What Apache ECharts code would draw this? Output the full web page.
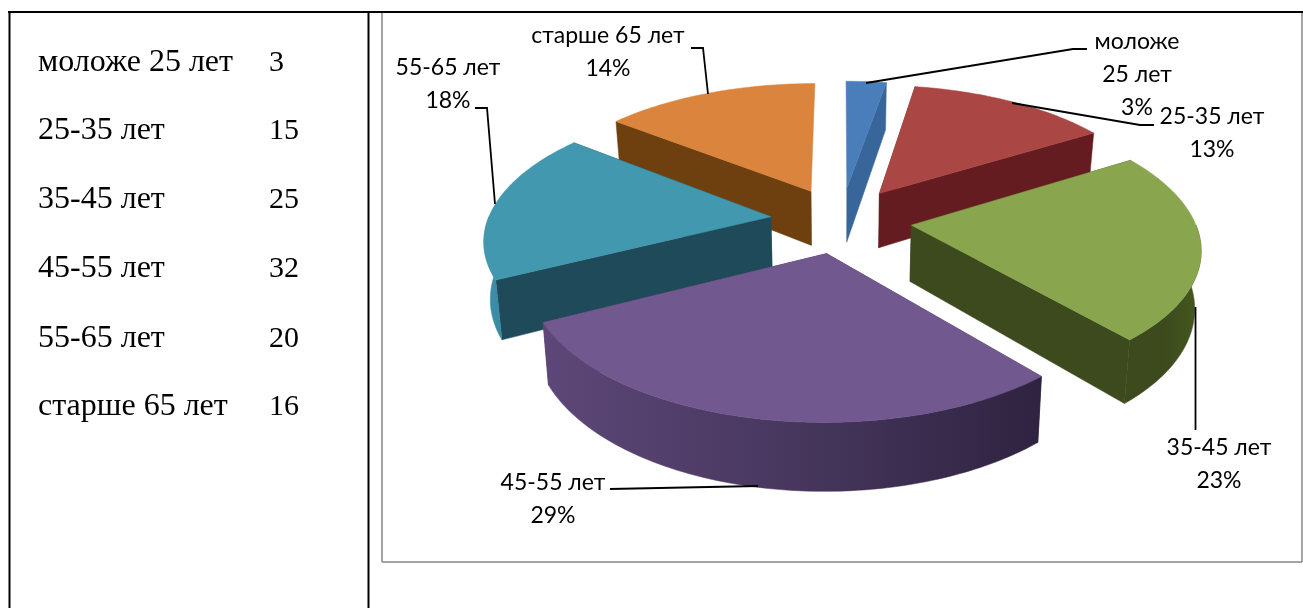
<!DOCTYPE html>
<html>
<head>
<meta charset="utf-8">
<title>Возраст</title>
<style>
  html, body { margin: 0; padding: 0; background: #fff; }
  #chart { width: 1303px; height: 608px; }
</style>
<script src="https://cdn.jsdelivr.net/npm/echarts@6/dist/echarts.min.js"></script>
</head>
<body>
<div id="chart"></div>
<script>
// data
const categories = ['моложе 25 лет', '25-35 лет', '35-45 лет', '45-55 лет', '55-65 лет', 'старше 65 лет'];
const values = [3, 15, 25, 32, 20, 16];
const percentLabels = ['3%', '13%', '23%', '29%', '18%', '14%'];
const chartLabels = ['моложе\n25 лет', '25-35 лет', '35-45 лет', '45-55 лет', '55-65 лет', 'старше 65 лет'];

// slice colours: top face, cut face, outer wall left/right
const topColors = ['#4a7ebb', '#aa4643', '#89a54e', '#71588f', '#4198af', '#db843d'];
const sideColors = ['#38669a', '#651c20', '#3c4a1d', '#4a3a60', '#1f4a59', '#6e3f0f'];
const wallStops = [
  ['#38669a', '#38669a'],
  ['#651c20', '#651c20'],
  ['#3c4a1d', '#3c4a1d', '#46581f'],
  ['#5d4778', '#47375e', '#2f2340'],
  ['#3d90a8', '#3a8aa2'],
  ['#6e3f0f', '#6e3f0f']
];

// pie projection
const pie = { cx: 841, cy: 220, rx: 283, ry: 132, persp: 0.151, explode: 0.25, depth: 56, shrink: 0.982 };
const DEG = Math.PI / 180;
const total = values.reduce((a, b) => a + b, 0);

function project(gx, gy) {
  const w = 1 + pie.persp * gy;
  return { x: pie.cx + pie.rx * gx / w, y: pie.cy - pie.ry * gy / w, w };
}
function lower(p) {
  return [pie.cx + (p.x - pie.cx) * pie.shrink, p.y + pie.depth / p.w];
}

let acc = 0;
const slices = values.map((v, i) => {
  const start = acc / total * 360;
  acc += v;
  return { i, start, end: acc / total * 360 };
});
// back slices are painted first
const paintOrder = slices.slice().sort((a, b) =>
  Math.cos((b.start + b.end) / 2 * DEG) - Math.cos((a.start + a.end) / 2 * DEG));

function renderSlice(params, api) {
  const s = slices[api.value(0)];
  const mid = (s.start + s.end) / 2 * DEG;
  const ox = pie.explode * Math.sin(mid), oy = pie.explode * Math.cos(mid);
  const at = deg => project(ox + Math.sin(deg * DEG), oy + Math.cos(deg * DEG));
  const apex = project(ox, oy);
  const arc = (a, b) => {
    const pts = [];
    const n = Math.max(2, Math.ceil(Math.abs(b - a)));
    for (let k = 0; k <= n; k++) pts.push(at(a + (b - a) * k / n));
    return pts;
  };
  const z = params.dataIndex * 10;
  const poly = (points, fill, z2) => ({ type: 'polygon', z2, shape: { points }, style: { fill, stroke: fill, lineWidth: 0.5 } });
  const children = [];

  // cut faces, the almost edge-on ones are not seen
  [s.start, s.end].forEach((deg, k) => {
    const corner = at(deg);
    if (Math.abs(corner.x - apex.x) < 8) return;
    children.push(poly([[apex.x, apex.y], [corner.x, corner.y], lower(corner), lower(apex)], sideColors[s.i], z + 1 + k));
  });

  const wa = Math.max(s.start, 90), wb = Math.min(s.end, 270);
  if (wb > wa) {
    const edge = arc(wa, wb);
    const pts = edge.map(p => [p.x, p.y]).concat(edge.slice().reverse().map(lower));
    const stops = wallStops[s.i];
    const grad = new echarts.graphic.LinearGradient(0, 0, 1, 0,
      stops.map((c, k) => ({ offset: k / (stops.length - 1), color: c })));
    children.push(poly(pts, grad, z + 3));
  }

  const topPts = [[apex.x, apex.y]].concat(arc(s.start, s.end).map(p => [p.x, p.y]));
  children.push(poly(topPts, topColors[s.i], z + 4));
  return { type: 'group', children };
}

// page layout: label boxes and leader lines, in slice order
const labelPos = [[1137, 25], [1212, 100], [1219, 431], [553, 466], [448, 51], [608, 19]];
const leaders = [
  [[1087, 49], [1073, 49], [866, 83]],
  [[1154, 125], [1140, 125], [1012, 103]],
  [[1195.5, 307], [1195.5, 430]],
  [[610, 489], [758, 486]],
  [[475, 108], [487, 108], [495, 204]],
  [[691, 48], [703, 48], [708, 94]]
];
const rowY = [63, 131, 200, 269, 339, 407];

const line = (x1, y1, x2, y2, stroke, lineWidth) => ({
  type: 'line', silent: true, z: 1,
  shape: { x1, y1, x2, y2 }, style: { stroke, lineWidth }
});

const graphics = [
  line(8, 12, 1303, 12, '#000', 2),
  line(9.5, 12, 9.5, 608, '#000', 2),
  line(368.5, 12, 368.5, 608, '#000', 2),
  line(382, 13, 382, 562, '#868686', 1.5),
  line(382, 562, 1302, 562, '#868686', 1.5),
  line(1302, 13, 1302, 562, '#868686', 1.5)
];
categories.forEach((c, i) => {
  graphics.push({ type: 'text', z: 5, style: { text: c, x: 38, y: rowY[i], font: '32px "Liberation Serif"', fill: '#000', verticalAlign: 'middle' } });
  graphics.push({ type: 'text', z: 5, style: { text: String(values[i]), x: 269, y: rowY[i], font: '30px "Liberation Serif"', fill: '#000', verticalAlign: 'middle' } });
  graphics.push({
    type: 'text', z: 5,
    style: {
      text: chartLabels[i] + '\n' + percentLabels[i],
      x: labelPos[i][0], y: labelPos[i][1],
      font: '23px Lato', lineHeight: 33, fill: '#000', align: 'center', verticalAlign: 'top'
    }
  });
  graphics.push({
    type: 'polyline', z: 4, silent: true,
    shape: { points: leaders[i] }, style: { fill: 'none', stroke: '#000', lineWidth: 1.8 }
  });
});

const chart = echarts.init(document.getElementById('chart'));
chart.setOption({
  animation: false,
  backgroundColor: '#fff',
  graphic: { elements: graphics },
  series: [{
    type: 'custom',
    coordinateSystem: 'none',
    silent: true,
    z: 2,
    renderItem: renderSlice,
    data: paintOrder.map(s => [s.i, values[s.i]])
  }]
});
</script>
</body>
</html>
